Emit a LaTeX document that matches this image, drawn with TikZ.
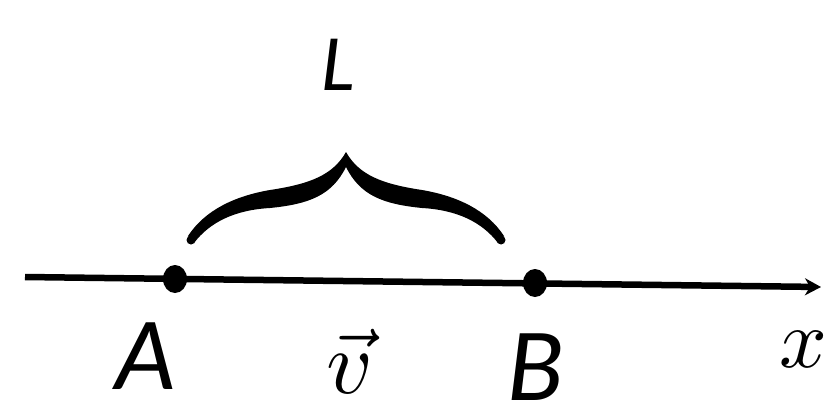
\documentclass[tikz,border=0pt]{standalone}
\usepackage{fontspec}
\setmainfont{Carlito}
\usetikzlibrary{arrows.meta}
\begin{document}
\begin{tikzpicture}[x=1pt,y=-1pt,
  lbl/.style={inner sep=0pt,anchor=base,font=\fontsize{104}{110}\selectfont\itshape},
  mlbl/.style={inner sep=0pt,anchor=base,scale=9},
  axis/.style={line width=6.5pt,-{Stealth[length=16pt,width=17pt,inset=5pt]}}]
\useasboundingbox (0,0) rectangle (834,404);
\coordinate (start) at (25,277);
\coordinate (end) at (821,287);
\draw[axis] (start) -- (end);
\fill (175,279) ellipse [x radius=12, y radius=14];
\fill (535,283) ellipse [x radius=12, y radius=14];
% brace
\fill (188,236) .. controls (205,210) and (235,196) .. (270,190)
  .. controls (310,184) and (333,175) .. (346,152)
  .. controls (359,175) and (382,184) .. (422,190)
  .. controls (457,196) and (487,210) .. (504,236)
  -- (498,243)
  .. controls (482,222) and (457,210) .. (422,208)
  .. controls (382,204) and (360,195) .. (346,167)
  .. controls (332,195) and (310,204) .. (270,208)
  .. controls (235,210) and (210,222) .. (194,243) -- cycle;
\fill (191,240) circle (4.5);
\fill (501,240) circle (4.5);
\node[lbl,font=\fontsize{80}{84}\selectfont\itshape] (L) at (338,90) {L};
\node[lbl] (A) at (146,389) {A};
\node[lbl] (B) at (536,400) {B};
\node[mlbl] (v) at (350,393) {$\vec{v}$};
\node[mlbl,scale=0.93] (x) at (803,367) {$x$};
\end{tikzpicture}
\end{document}
